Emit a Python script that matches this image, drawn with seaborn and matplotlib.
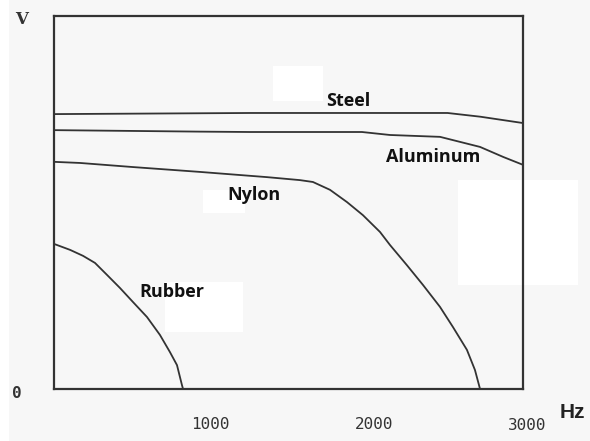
import numpy as np
import pandas as pd
import matplotlib
matplotlib.use('Agg')
import matplotlib.pyplot as plt
import matplotlib.patches as mpatches
from matplotlib.transforms import ScaledTranslation
import seaborn as sns

# 读出的曲线数据 (频率 Hz, 相对幅值 V)
steel_hz = [0, 1200, 2400, 2600, 2860]
steel_v = [0.737, 0.740, 0.740, 0.730, 0.713]

alu_hz = [0, 890, 1195, 1878, 2049, 2354, 2598, 2740, 2860]
alu_v = [0.694, 0.690, 0.689, 0.689, 0.681, 0.676, 0.649, 0.622, 0.601]

nylon_hz = [0, 159, 482, 890, 1299, 1500, 1579, 1683, 1787, 1884, 1988, 2049, 2152,
            2250, 2354, 2433, 2518, 2567, 2598]
nylon_v = [0.609, 0.606, 0.595, 0.582, 0.568, 0.560, 0.555, 0.534, 0.501, 0.466, 0.421,
           0.386, 0.332, 0.279, 0.220, 0.166, 0.105, 0.051, 0.0]

rubber_hz = [0, 98, 177, 250, 323, 402, 482, 567, 646, 707, 750, 780, 787]
rubber_v = [0.389, 0.373, 0.357, 0.338, 0.306, 0.271, 0.233, 0.193, 0.145, 0.099,
            0.064, 0.011, 0.0]

materials = ["Steel", "Aluminum", "Nylon", "Rubber"]
label_pos = {"Steel": (1793, 0.772), "Aluminum": (2311, 0.622),
             "Nylon": (1220, 0.520), "Rubber": (720, 0.260)}
xticks = [1000, 2000]

frames = []
for name, hz, v in zip(materials, [steel_hz, alu_hz, nylon_hz, rubber_hz],
                       [steel_v, alu_v, nylon_v, rubber_v]):
    frames.append(pd.DataFrame({"Hz": hz, "V": v, "material": name}))
df = pd.concat(frames, ignore_index=True)

sns.set_style("white")
bg = "#f7f7f7"
fig = plt.figure(figsize=(5.9, 4.41), dpi=100, facecolor=bg)
ax = fig.add_axes([54 / 590, 1 - 389 / 441, 469 / 590, 373 / 441])
ax.set_facecolor("none")
ax.set_zorder(2)

# 原图中的白色遮挡块
for (x0, y0, x1, y1) in [(0, 0, 9, 441), (273, 66, 323, 101), (458, 180, 578, 285),
                         (165, 282, 243, 332), (203, 190, 245, 213)]:
    fig.patches.append(mpatches.Rectangle((x0 / 590, 1 - y1 / 441), (x1 - x0) / 590,
                                          (y1 - y0) / 441, transform=fig.transFigure,
                                          facecolor="white", edgecolor="none", zorder=0))

sns.lineplot(data=df, x="Hz", y="V", hue="material", units="material", estimator=None,
             sort=False, palette=["#333333"] * 4, linewidth=1.3, legend=False, ax=ax)

ax.set_xlim(0, 2860)
ax.set_ylim(0, 1)
ax.set_xlabel("")
ax.set_ylabel("")
ax.set_yticks([])
ax.set_xticks(xticks)
ax.set_xticklabels([str(t) for t in xticks], family="DejaVu Sans Mono", fontsize=11.5,
                   color="#333333")
ax.tick_params(axis="x", direction="in", length=11, width=1.3, color="#333333", pad=20)
for lab in ax.get_xticklabels():
    lab.set_transform(lab.get_transform() + ScaledTranslation(-8 / 100, 0, fig.dpi_scale_trans))
for s in ax.spines.values():
    s.set_visible(True)
    s.set_color("#333333")
    s.set_linewidth(1.6)

for name in materials:
    x, y = label_pos[name]
    ax.text(x, y, name, ha="center", va="center", fontsize=13, fontweight="bold",
            family="Open Sans", color="#111111")

fig.text(527 / 590, 1 - 425 / 441, "3000", ha="center", va="center",
         family="DejaVu Sans Mono", fontsize=11.5, color="#333333")
fig.text(572 / 590, 1 - 412 / 441, "Hz", ha="center", va="center",
         family="Liberation Sans", fontweight="bold", fontsize=15, color="#222222")
fig.text(22 / 590, 1 - 20 / 441, "V", ha="center", va="center",
         family="DejaVu Serif", fontweight="bold", fontsize=12, color="#333333")
fig.text(17 / 590, 1 - 393 / 441, "0", ha="center", va="center",
         family="DejaVu Sans Mono", fontweight="bold", fontsize=11.5, color="#333333")

fig.savefig("out.png", dpi=100, facecolor=bg)
